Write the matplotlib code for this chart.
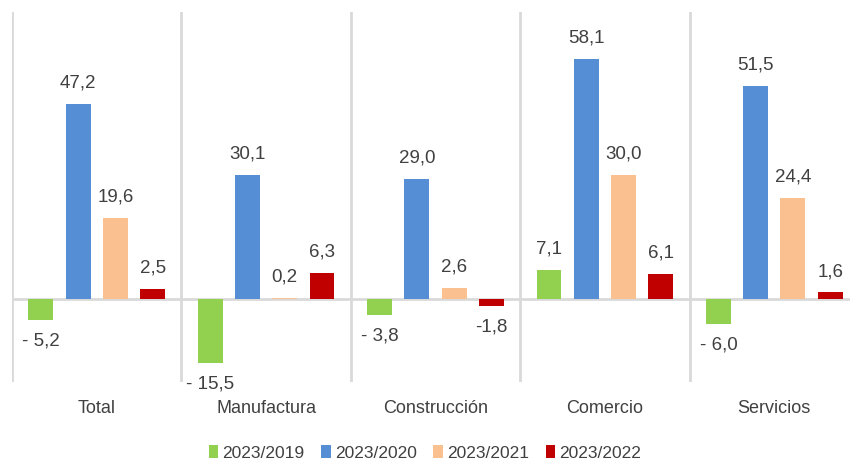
import matplotlib.pyplot as plt
import numpy as np

categories = ['Total', 'Manufactura', 'Construcción', 'Comercio', 'Servicios']
series_names = ['2023/2019', '2023/2020', '2023/2021', '2023/2022']
v2019 = [-5.2, -15.5, -3.8, 7.1, -6.0]
v2020 = [47.2, 30.1, 29.0, 58.1, 51.5]
v2021 = [19.6, 0.2, 2.6, 30.0, 24.4]
v2022 = [2.5, 6.3, -1.8, 6.1, 1.6]
colors = ['#92d050', '#558ed5', '#fac090', '#c00000']

plt.rcParams['font.family'] = ['Liberation Sans', 'DejaVu Sans']

txt = '#404040'
grid = '#d9d9d9'


def fmt(v, tight=False):
    s = f'{abs(v):.1f}'.replace('.', ',')
    if v < 0:
        return ('-' if tight else '- ') + s
    return s


fig = plt.figure(figsize=(8.5, 4.61), dpi=100)
ax = fig.add_axes([12 / 850, 79 / 461, 847 / 850, 370 / 461])

x = np.arange(len(categories))
offsets = [-0.33, -0.11, 0.11, 0.33]
width = 0.147
all_series = [v2019, v2020, v2021, v2022]

for k, (vals, off, col) in enumerate(zip(all_series, offsets, colors)):
    ax.bar(x + off, vals, width, color=col, label=series_names[k], zorder=3)
    for i, v in enumerate(vals):
        tight = (k == 3 and i == 2)  # this one has no space after the minus
        dy = 3.0 if v >= 0 else -3.0
        ax.text(x[i] + off, v + dy, fmt(v, tight), ha='center',
                va='bottom' if v >= 0 else 'top', fontsize=13.5, color=txt)

ax.set_xlim(-0.5, len(categories) - 0.5)
ax.set_ylim(-20.1, 69.5)
ax.axhline(0, color=grid, lw=2, zorder=2)
for b in np.arange(len(categories)) - 0.5:
    ax.axvline(b, color=grid, lw=2, zorder=1)

for s in ax.spines.values():
    s.set_visible(False)
ax.set_yticks([])
ax.set_xticks(x)
ax.set_xticklabels(categories, fontsize=13, color=txt)
ax.tick_params(axis='x', length=0, pad=13)

fig.legend(loc='center', bbox_to_anchor=(0.5, 1 - 453 / 461), ncol=4,
           frameon=False, fontsize=12.5, handlelength=0.55, handleheight=0.7,
           handletextpad=0.25, columnspacing=0.95, labelcolor=txt)

fig.savefig('out.png', dpi=100)
